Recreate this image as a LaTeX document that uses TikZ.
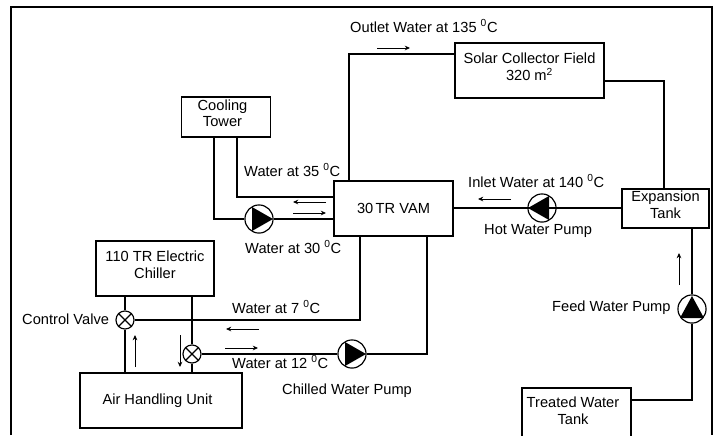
\documentclass[tikz,border=0pt]{standalone}
\usepackage{fontspec}
\setmainfont{Liberation Sans}
\usetikzlibrary{arrows.meta}
\tikzset{
    unitbox/.style={draw, line width=1.4pt, inner sep=0pt, align=center, font=\fontsize{12.5}{14.4}\selectfont},
    twoline/.style={execute at end node={\rule[-6.5pt]{0pt}{6.5pt}}},
    pipe/.style={line width=1.4pt},
    flowarrow/.style={line width=0.8pt, -{Stealth[length=4.5pt,width=4pt]}},
    lbl/.style={inner sep=0pt, font=\fontsize{12.5}{14}\selectfont},
    pumpcircle/.style={draw, circle, fill=white, line width=1pt, minimum size=24pt, inner sep=0pt},
    valvecircle/.style={draw, circle, fill=white, line width=1pt, minimum size=15.4pt, inner sep=0pt}
}
\begin{document}
\begin{tikzpicture}[x=0.03cm,y=-0.03cm]
    \useasboundingbox (0,0) rectangle (715,435);
    % Outer frame
    \draw[line width=1.5pt] (11,435) -- (11,7) -- (712,7) -- (712,435);
    % Boxes
    \node[unitbox, twoline, minimum width=2.67cm, minimum height=1.2cm] (tower) at (226,117) {\hspace*{-6pt}Cooling\\\hspace*{-6pt}Tower};
    \node[unitbox, minimum width=3.57cm, minimum height=1.65cm] (vam) at (393.5,208.5) {30\,TR VAM};
    \node[unitbox, twoline, minimum width=3.54cm, minimum height=1.65cm] (chiller) at (155,268.5) {110 TR Electric\\Chiller};
    \node[unitbox, minimum width=4.86cm, minimum height=1.65cm] (ahu) at (161,400.5) {\hspace*{-6pt}Air Handling Unit};
    \node[unitbox, twoline, minimum width=4.47cm, minimum height=1.65cm] (solar) at (529.5,70.5) {Solar Collector Field\\320 m\textsuperscript{2}};
    \node[unitbox, twoline, minimum width=2.61cm, minimum height=1.17cm] (tank) at (665.5,208.5) {Expansion\\Tank};
    \node[unitbox, twoline, minimum width=3.27cm, minimum height=1.6cm] (treated) at (576.5,414.5) {\hspace*{-6pt}Treated Water\\\hspace*{-6pt}Tank};
    % Pumps and valves
    \node[pumpcircle] (cwpump) at (259,219) {};
    \node[pumpcircle] (hwpump) at (542,208) {};
    \node[pumpcircle] (fwpump) at (692,309) {};
    \node[pumpcircle] (chpump) at (352,354) {};
    \node[valvecircle] (valvea) at (125,320) {};
    \node[valvecircle] (valveb) at (192,354) {};
    % Pipes
    \draw[pipe] (vam.north -| 349,0) -- (349,54) -- (solar.west |- 0,54);
    \draw[pipe] (tower.south -| 237,0) -- (237,197) -- (vam.west |- 0,197);
    \draw[pipe] (tower.south -| 214,0) -- (214,219) -- (cwpump.west);
    \draw[pipe] (cwpump.east) -- (vam.west |- 0,219);
    \draw[pipe] (vam.east |- hwpump.east) -- (hwpump.east);
    \draw[pipe] (hwpump.west) -- (tank.west |- hwpump.west);
    \draw[pipe] (solar.east |- 0,81) -- (664,81) -- (tank.north -| 664,0);
    \draw[pipe] (tank.south -| 692,0) -- (fwpump.north);
    \draw[pipe] (fwpump.south) -- (692,400) -- (treated.east |- 0,400);
    \draw[pipe] (chiller.south -| 125,0) -- (valvea.north);
    \draw[pipe] (valvea.south) -- (ahu.north -| 125,0);
    \draw[pipe] (chiller.south -| 192,0) -- (valveb.north);
    \draw[pipe] (valveb.south) -- (ahu.north -| 192,0);
    \draw[pipe] (valvea.east) -- (360,320) -- (vam.south -| 360,0);
    \draw[pipe] (valveb.east) -- (chpump.west);
    \draw[pipe] (chpump.east) -- (427,354) -- (vam.south -| 427,0);
    % Pump triangles
    \fill (cwpump.center) ++(-7,-12) -- ++(21,12) -- ++(-21,12) -- cycle;
    \fill (hwpump.center) ++(7,-12) -- ++(-21,12) -- ++(21,12) -- cycle;
    \fill (fwpump.center) ++(-12,9) -- ++(12,-22) -- ++(12,22) -- cycle;
    \fill (chpump.center) ++(-7,-12) -- ++(21,12) -- ++(-21,12) -- cycle;
    % Valve crosses
    \draw[line width=1pt] (valvea.north west) -- (valvea.south east) (valvea.north east) -- (valvea.south west);
    \draw[line width=1pt] (valveb.north west) -- (valveb.south east) (valveb.north east) -- (valveb.south west);
    % Flow arrows
    \draw[flowarrow] (377,48) -- (410,48);
    \draw[flowarrow] (326,202) -- (293,202);
    \draw[flowarrow] (293,213) -- (326,213);
    \draw[flowarrow] (511,199) -- (478,199);
    \draw[flowarrow] (679,285) -- (679,253);
    \draw[flowarrow] (135,367) -- (135,335);
    \draw[flowarrow] (180,335) -- (180,367);
    \draw[flowarrow] (259,329) -- (226,329);
    \draw[flowarrow] (225,348) -- (258,348);
    % Labels
    \node[lbl, anchor=west] (outlet) at (350,26) {Outlet Water at 135 \textsuperscript{0}C};
    \node[lbl, anchor=west] (water35) at (244,170) {Water at 35 \textsuperscript{0}C};
    \node[lbl, anchor=west] (water30) at (245,247) {Water at 30 \textsuperscript{0}C};
    \node[lbl, anchor=west] (inlet) at (468,181) {Inlet Water at 140 \textsuperscript{0}C};
    \node[lbl, anchor=west] (hotlbl) at (484,231) {Hot Water Pump};
    \node[lbl, anchor=west] (feedlbl) at (552,308) {Feed Water Pump};
    \node[lbl, anchor=west] (water7) at (232,307) {Water at 7 \textsuperscript{0}C};
    \node[lbl, anchor=west] (water12) at (232,362) {Water at 12 \textsuperscript{0}C};
    \node[lbl, anchor=west] (chlbl) at (282,391) {Chilled Water Pump};
    \node[lbl, anchor=west] (valvelbl) at (22,319) {Control Valve};
\end{tikzpicture}
\end{document}
